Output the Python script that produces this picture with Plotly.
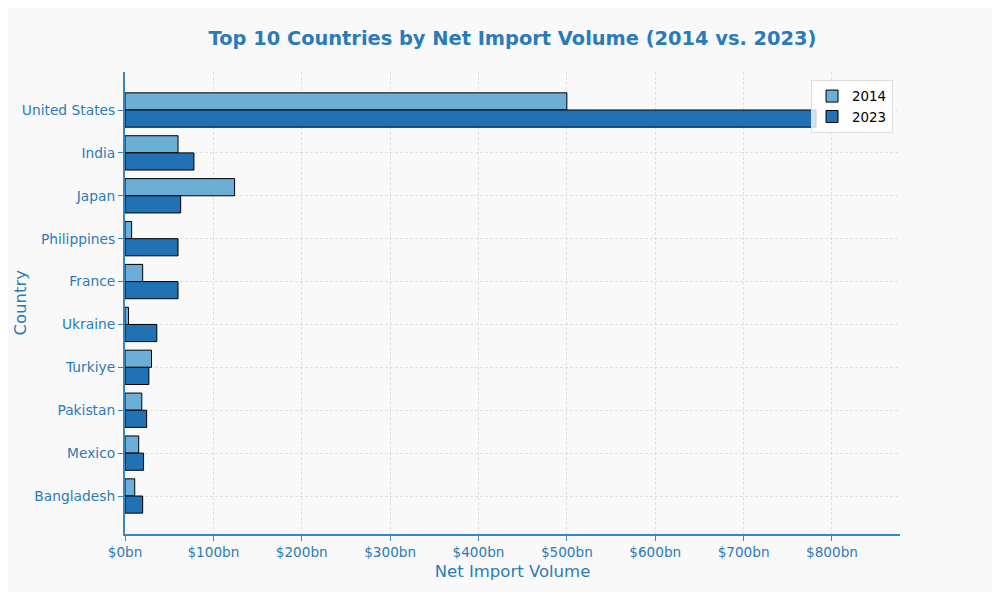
import plotly.graph_objects as go

# Net import volume per country, in $bn
countries = ['United States', 'India', 'Japan', 'Philippines', 'France',
             'Ukraine', 'Turkiye', 'Pakistan', 'Mexico', 'Bangladesh']
imports_2014 = [500, 60, 124, 7.5, 20, 4, 30, 19, 15.5, 11]
imports_2023 = [782, 78, 63, 60, 60, 36, 27, 24.5, 21, 20]

tick_vals = [0, 100, 200, 300, 400, 500, 600, 700, 800]
tick_text = ['$%dbn' % v for v in tick_vals]

text_col = '#2b7bba'
axis_col = '#3a87c0'
grid_col = 'rgba(0,0,0,0.09)'
font_family = 'DejaVu Sans'

fig = go.Figure()

fig.add_trace(go.Bar(
    y=countries, x=imports_2014, name='2014', orientation='h',
    marker=dict(color='#6baed6', line=dict(color='black', width=1)),
    offsetgroup='a'
))
fig.add_trace(go.Bar(
    y=countries, x=imports_2023, name='2023', orientation='h',
    marker=dict(color='#2171b5', line=dict(color='black', width=1)),
    offsetgroup='b'
))

# page body has an 8px margin, so the figure is sized to fit inside it
fig.update_layout(
    width=984, height=584,
    barmode='group', bargap=0.2, bargroupgap=0,
    paper_bgcolor='#f9f9f9', plot_bgcolor='#f9f9f9',
    margin=dict(l=117, r=92, t=64, b=58),
    font=dict(family=font_family, color=text_col, size=13),
    title=dict(text='<b>Top 10 Countries by Net Import Volume (2014 vs. 2023)</b>',
               x=0.5127, xanchor='center', y=0.9486, yanchor='middle',
               font=dict(size=19.4, color=text_col)),
    legend=dict(x=0.991, y=0.983, xanchor='right', yanchor='top',
                bgcolor='rgba(255,255,255,0.8)', bordercolor='#dddddd', borderwidth=1,
                font=dict(size=13.4, color='black'), traceorder='normal'),
    showlegend=True,
    annotations=[dict(text='Country', textangle=-90, xref='paper', yref='paper',
                      x=-117 / 775, xanchor='left', y=0.5, yanchor='middle',
                      showarrow=False, font=dict(size=16.5, color=text_col))],
)

fig.update_xaxes(
    range=[0, 877], tickvals=tick_vals, ticktext=tick_text,
    showline=True, linecolor=axis_col, linewidth=2,
    ticks='outside', ticklen=5, tickcolor=axis_col,
    showgrid=True, gridcolor=grid_col, griddash='3px,2px', gridwidth=1,
    zeroline=False, automargin=False,
    title=dict(text='Net Import Volume', font=dict(size=16.5, color=text_col), standoff=6),
    tickfont=dict(size=13.6, color=text_col),
)
fig.update_yaxes(
    categoryorder='array', categoryarray=countries,
    range=[9.886, -0.886], automargin=False,
    showline=True, linecolor=axis_col, linewidth=2,
    ticks='outside', ticklen=5, tickcolor=axis_col,
    showgrid=True, gridcolor=grid_col, griddash='3px,2px', gridwidth=1,
    tickfont=dict(size=13.8, color=text_col),
)

fig.write_html('out.html')
